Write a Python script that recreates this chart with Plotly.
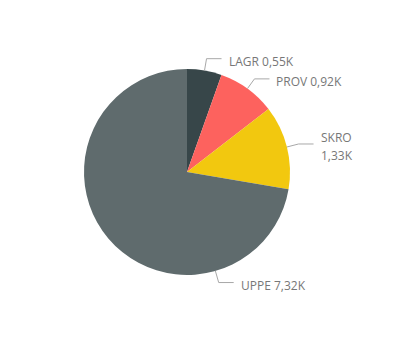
import math
import plotly.graph_objects as go

# ---- data ----
labels = ["LAGR", "PROV", "SKRO", "UPPE"]
values = [0.55, 0.92, 1.33, 7.32]          # thousands
value_text = ["0,55K", "0,92K", "1,33K", "7,32K"]
colors = ["#374649", "#FD625E", "#F2C80F", "#5F6B6D"]

# ---- layout constants ----
W, H = 413, 345
CX, CY, R = 187, 172, 103
R_OUT = 115        # end of radial part of leader line
HLEN = 15          # horizontal part of leader line
GAP = 5
# label anchor angle overrides (degrees clockwise from 12 o'clock)
anchor_override = {"UPPE": 164.0}
two_line = {"SKRO"}
FONT = dict(family="Open Sans", size=12, color="#777777")

fig = go.Figure(go.Pie(
    labels=labels, values=values, sort=False, direction="clockwise",
    rotation=0, marker=dict(colors=colors, line=dict(width=0)),
    textinfo="none", hoverinfo="label+value", showlegend=False,
    domain=dict(x=[(CX - R) / W, (CX + R) / W],
                y=[1 - (CY + R) / H, 1 - (CY - R) / H]),
))

def px(x): return x / W
def py(y): return 1 - y / H

total = sum(values)
cum = 0.0
shapes, annotations = [], []
for lab, v, vt in zip(labels, values, value_text):
    mid = (cum + v / 2) / total * 360.0
    cum += v
    ang = math.radians(anchor_override.get(lab, mid))
    sx, sy = CX + R * math.sin(ang), CY - R * math.cos(ang)
    ex, ey = CX + R_OUT * math.sin(ang), CY - R_OUT * math.cos(ang)
    if lab in two_line:
        ey = sy - 3
        ex = CX + R_OUT * math.sin(ang)
    hx = ex + HLEN
    shapes.append(dict(type="path", xref="paper", yref="paper",
                       path=f"M {px(sx)} {py(sy)} L {px(ex)} {py(ey)} L {px(hx)} {py(ey)}",
                       line=dict(color="#A8A8A8", width=1)))
    if lab in two_line:
        lines = [(lab, ey + 3 - 9), (vt, ey + 3 + 9)]
    else:
        lines = [(f"{lab} {vt}", ey + 3)]
    for t, yy in lines:
        annotations.append(dict(x=px(hx + GAP), y=py(yy), xref="paper", yref="paper",
                                text=t, showarrow=False, xanchor="left", yanchor="middle",
                                align="left", font=FONT))

fig.update_layout(width=W, height=H, margin=dict(l=0, r=0, t=0, b=0),
                  paper_bgcolor="white", plot_bgcolor="white",
                  shapes=shapes, annotations=annotations)
fig.write_html("out.html")
